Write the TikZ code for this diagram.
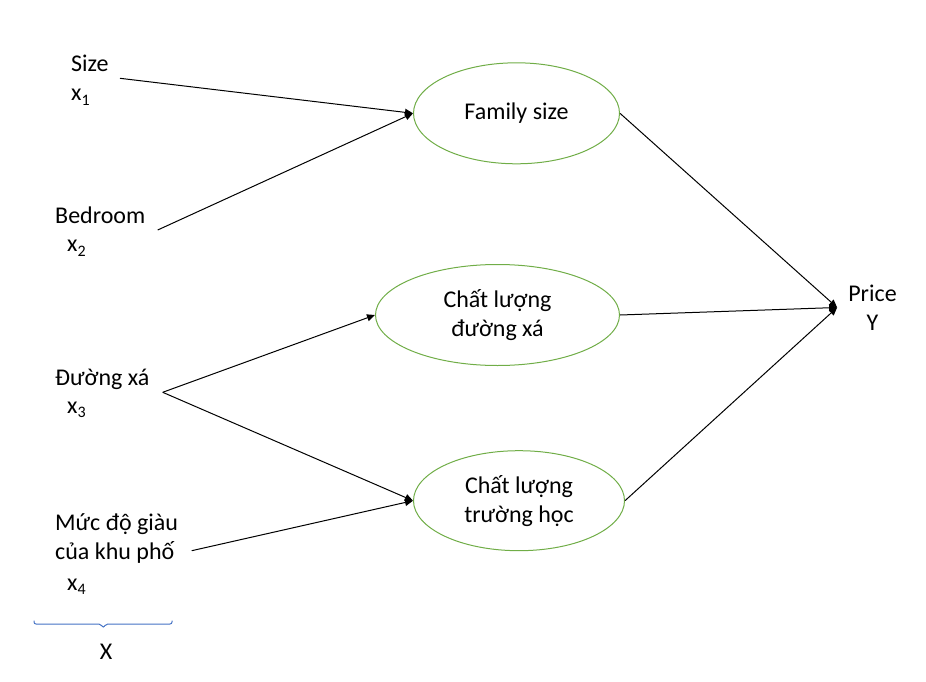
\documentclass[tikz,border=0pt]{standalone}
\usepackage{fontspec}
\setmainfont{Carlito}
\usetikzlibrary{arrows.meta,shapes.geometric}
\newcommand\xsub[1]{x\raisebox{-4.5pt}{\fontsize{16}{16}\selectfont #1}}
\tikzset{
  lbl/.style={anchor=base west,inner sep=0pt,font=\fontsize{24}{29}\selectfont},
  ell/.style={ellipse,draw={rgb,255:red,112;green,173;blue,71},line width=1pt,inner sep=0pt,align=center,font=\fontsize{24}{29}\selectfont},
  arr/.style={line width=1pt,-{Triangle[length=8pt,width=7pt]}},
  bracestyle/.style={line width=1pt,draw={rgb,255:red,68;green,114;blue,196},rounded corners=2pt},
}
\begin{document}
\begin{tikzpicture}[x=1pt,y=-1pt]
\useasboundingbox (0,0) rectangle (926,682);
% left labels
\node[lbl] (size) at (71,71.7) {Size};
\node[lbl] (x1) at (71,100.7) {\xsub{1}};
\node[lbl] (bed) at (55,223.3) {Bedroom};
\node[lbl] (x2) at (67,251.7) {\xsub{2}};
\node[lbl] (duong) at (55,385) {Đường xá};
\node[lbl] (x3) at (67,413.3) {\xsub{3}};
\node[lbl] (muc1) at (55,530.7) {Mức độ giàu};
\node[lbl] (muc2) at (55,559.3) {của khu phố};
\node[lbl] (x4) at (67,590) {\xsub{4}};
\node[lbl,anchor=base] (X) at (106,659) {X};
% brace
\coordinate (bl) at (34,620.5);
\coordinate (br) at (172,620.5);
\draw[bracestyle] (bl) -- ++(0,3.5) -- (100.8,624) -- (103.3,628) -- (105.8,624) -- (172,624) -- (br);
% ellipses
\node[ell,minimum width=206pt,minimum height=101pt] (fam) at (516.5,113.3) {Family size};
\node[ell,minimum width=244pt,minimum height=101pt] (road) at (497.5,315) {Chất lượng\\đường xá};
\node[ell,minimum width=211pt,minimum height=100pt] (school) at (519,500.7) {Chất lượng\\trường học};
% price
\node[align=center,inner xsep=11pt,inner ysep=0pt,font=\fontsize{24}{29}\selectfont] (price) at (872.5,307.5) {Price\\Y};
% arrow starts
\coordinate (s1) at (120,78.3);
\coordinate (s2) at (157.7,230);
\coordinate (s3) at (162.7,392.3);
\coordinate (s4) at (191.7,550.7);
\draw[arr] (s1) -- (fam.west);
\draw[arr] (s2) -- (fam.west);
\draw[arr] (s3) -- (road.west);
\draw[arr] (s3) -- (school.west);
\draw[arr] (s4) -- (school.west);
\draw[arr] (fam.east) -- (price.west);
\draw[arr] (road.east) -- (price.west);
\draw[arr] (school.east) -- (price.west);
\end{tikzpicture}
\end{document}
